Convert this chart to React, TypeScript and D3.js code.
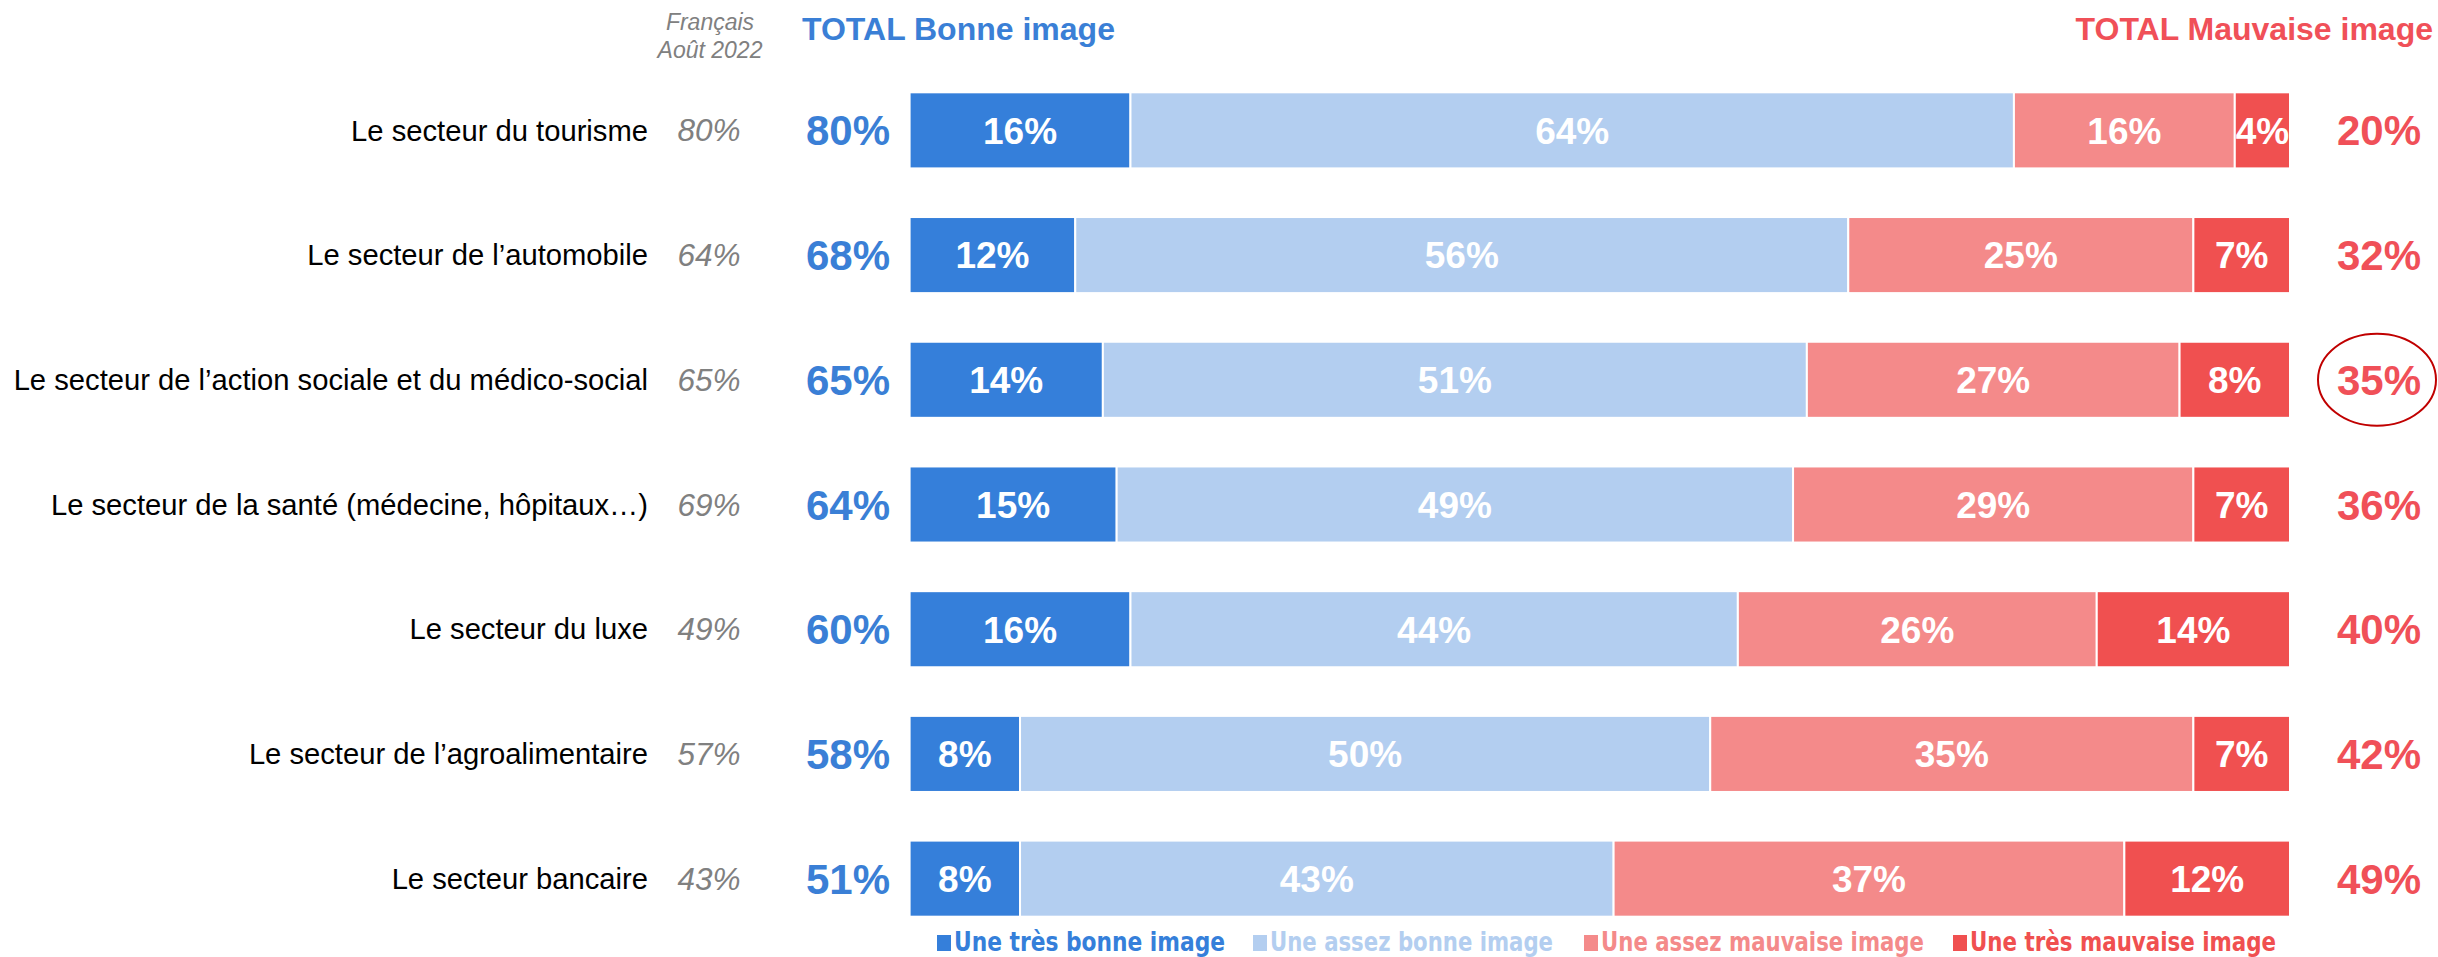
import React from 'react';
import * as d3 from 'd3';

const categories = [
  "Le secteur du tourisme",
  "Le secteur de l’automobile",
  "Le secteur de l’action sociale et du médico-social",
  "Le secteur de la santé (médecine, hôpitaux…)",
  "Le secteur du luxe",
  "Le secteur de l’agroalimentaire",
  "Le secteur bancaire",
];
const previous2022 = [80, 64, 65, 69, 49, 57, 43];
const totalGood = [80, 68, 65, 64, 60, 58, 51];
const totalBad = [20, 32, 35, 36, 40, 42, 49];
const veryGood = [16, 12, 14, 15, 16, 8, 8];
const fairlyGood = [64, 56, 51, 49, 44, 50, 43];
const fairlyBad = [16, 25, 27, 29, 26, 35, 37];
const veryBad = [4, 7, 8, 7, 14, 7, 12];
const seriesNames = [
  "Une très bonne image",
  "Une assez bonne image",
  "Une assez mauvaise image",
  "Une très mauvaise image",
];
const highlighted = 2;

const W = 2438;
const H = 957;
const colors = ["#357fda", "#b3cef0", "#f48a8a", "#f05050"];
const blue = "#3a7fd6";
const red = "#f05058";
const gray = "#808080";
const font = "'Liberation Sans', Arial, sans-serif";
const narrow = "'Liberation Sans Narrow', 'DejaVu Sans Condensed', sans-serif";

export default function App() {
  const series = [veryGood, fairlyGood, fairlyBad, veryBad];

  const y = d3.scaleBand<string>()
    .domain(categories)
    .range([68, 941])
    .paddingInner(0.39)
    .paddingOuter(0.195);

  const x = d3.scaleLinear().domain([0, 100]).range([909.6, 2290]);

  const rows = categories.map((c, i) => {
    let acc = 0;
    const segs = series.map((s, k) => {
      const start = acc;
      acc += s[i];
      return { k, start, end: acc, v: s[i] };
    });
    return { c, i, segs };
  });

  // legend layout (left of square, text width)
  const legendX = [937, 1253, 1584, 1953];
  const legendW = [271, 283, 323, 306];

  return (
    <svg width={W} height={H} style={{ position: 'absolute', left: 0, top: 0, background: '#fff' }}
      fontFamily={font}>
      {/* headers */}
      <text x={710} y={30} textAnchor="middle" fontSize={23} fontStyle="italic" fill={gray}>Français</text>
      <text x={710} y={58} textAnchor="middle" fontSize={23} fontStyle="italic" fill={gray}>Août 2022</text>
      <text x={802} y={40} fontSize={32} fontWeight="bold" fill={blue}>TOTAL Bonne image</text>
      <text x={2433} y={40} textAnchor="end" fontSize={32} fontWeight="bold" fill={red}>TOTAL Mauvaise image</text>

      {rows.map(r => {
        const cy = (y(r.c) as number) + y.bandwidth() / 2;
        return (
          <g key={r.c}>
            <text x={648} y={cy} dy="0.35em" textAnchor="end" fontSize={29.2} fill="#000">{r.c}</text>
            <text x={709} y={cy} dy="0.35em" textAnchor="middle" fontSize={31.5} fontStyle="italic" fill={gray}>
              {previous2022[r.i]}%
            </text>
            <text x={848} y={cy} dy="0.36em" textAnchor="middle" fontSize={42} fontWeight="bold" fill={blue}>
              {totalGood[r.i]}%
            </text>
            {r.segs.map(s => (
              <g key={s.k}>
                <rect x={x(s.start)} y={y(r.c)} width={x(s.end) - x(s.start)} height={y.bandwidth()}
                  fill={colors[s.k]} stroke="#fff" strokeWidth={2} />
                <text x={(x(s.start) + x(s.end)) / 2} y={cy} dy="0.36em" textAnchor="middle"
                  fontSize={37} fontWeight="bold" fill="#fff">{s.v}%</text>
              </g>
            ))}
            <text x={2379} y={cy} dy="0.36em" textAnchor="middle" fontSize={42} fontWeight="bold" fill={red}>
              {totalBad[r.i]}%
            </text>
            {r.i === highlighted && (
              <ellipse cx={2377} cy={cy} rx={59} ry={46} fill="none" stroke="#c00000" strokeWidth={2} />
            )}
          </g>
        );
      })}

      {/* legend */}
      {seriesNames.map((n, k) => (
        <g key={n}>
          <rect x={legendX[k]} y={935} width={14} height={16} fill={colors[k]} />
          <text x={legendX[k] + 17} y={951} fontFamily={narrow} fontSize={26} fontWeight="bold"
            fill={colors[k]} textLength={legendW[k]} lengthAdjust="spacingAndGlyphs">{n}</text>
        </g>
      ))}
    </svg>
  );
}
